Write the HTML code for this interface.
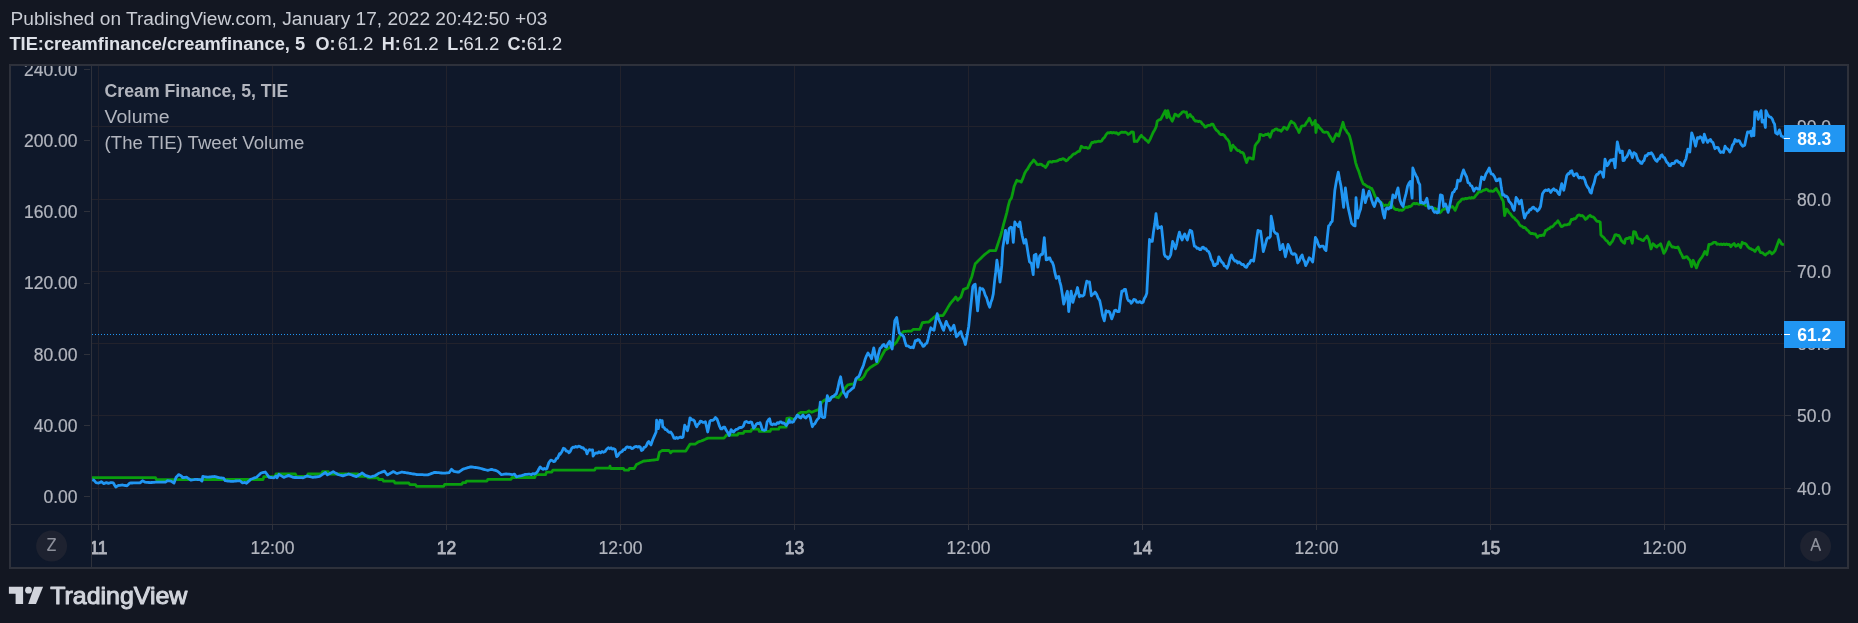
<!DOCTYPE html><html><head><meta charset="utf-8"><style>html,body{margin:0;padding:0;background:#131722;}svg{display:block;will-change:transform;}text{font-family:"Liberation Sans", sans-serif;}</style></head><body>
<svg width="1858" height="623" viewBox="0 0 1858 623">
<rect x="0" y="0" width="1858" height="623" fill="#131722"/>
<text x="10.5" y="24.7" font-size="18" fill="#c9ccd4" textLength="537" lengthAdjust="spacingAndGlyphs">Published on TradingView.com, January 17, 2022 20:42:50 +03</text>
<text x="9.4" y="49.5" font-size="18" font-weight="bold" fill="#dde0e7" textLength="295.8" lengthAdjust="spacingAndGlyphs">TIE:creamfinance/creamfinance, 5</text>
<text x="315.5" y="49.5" font-size="18" font-weight="bold" fill="#dde0e7">O:</text>
<text x="337.8" y="49.5" font-size="18" fill="#dde0e7" textLength="35.5" lengthAdjust="spacingAndGlyphs">61.2</text>
<text x="381.7" y="49.5" font-size="18" font-weight="bold" fill="#dde0e7">H:</text>
<text x="402.4" y="49.5" font-size="18" fill="#dde0e7" textLength="36.3" lengthAdjust="spacingAndGlyphs">61.2</text>
<text x="447.3" y="49.5" font-size="18" font-weight="bold" fill="#dde0e7">L:</text>
<text x="463.4" y="49.5" font-size="18" fill="#dde0e7" textLength="35.9" lengthAdjust="spacingAndGlyphs">61.2</text>
<text x="507.4" y="49.5" font-size="18" font-weight="bold" fill="#dde0e7">C:</text>
<text x="526.7" y="49.5" font-size="18" fill="#dde0e7" textLength="35.6" lengthAdjust="spacingAndGlyphs">61.2</text>
<rect x="9" y="64" width="1840" height="505" fill="#2e313b"/>
<rect x="11" y="66" width="1836" height="501" fill="#0f182a"/>
<rect x="98" y="66" width="1" height="458" fill="#22222c"/>
<rect x="272" y="66" width="1" height="458" fill="#22222c"/>
<rect x="446" y="66" width="1" height="458" fill="#22222c"/>
<rect x="620" y="66" width="1" height="458" fill="#22222c"/>
<rect x="794" y="66" width="1" height="458" fill="#22222c"/>
<rect x="968" y="66" width="1" height="458" fill="#22222c"/>
<rect x="1142" y="66" width="1" height="458" fill="#22222c"/>
<rect x="1316" y="66" width="1" height="458" fill="#22222c"/>
<rect x="1490" y="66" width="1" height="458" fill="#22222c"/>
<rect x="1664" y="66" width="1" height="458" fill="#22222c"/>
<rect x="92" y="126" width="1692" height="1" fill="#22222c"/>
<rect x="92" y="199" width="1692" height="1" fill="#22222c"/>
<rect x="92" y="271" width="1692" height="1" fill="#22222c"/>
<rect x="92" y="343" width="1692" height="1" fill="#22222c"/>
<rect x="92" y="415" width="1692" height="1" fill="#22222c"/>
<rect x="92" y="488" width="1692" height="1" fill="#22222c"/>
<rect x="91" y="66" width="1" height="501" fill="#2e313b"/>
<rect x="1784" y="66" width="1" height="501" fill="#2e313b"/>
<rect x="11" y="524" width="1836" height="1" fill="#2e313b"/>
<defs><clipPath id="lc"><rect x="11" y="66" width="80" height="458"/></clipPath><clipPath id="tc"><rect x="92" y="525" width="1692" height="42"/></clipPath></defs>
<g clip-path="url(#tc)">
<rect x="98" y="525" width="1" height="5" fill="#2e313b"/>
<text x="98.5" y="554" font-size="17.5" text-anchor="middle" fill="#b2b5be" stroke="#b2b5be" stroke-width="0.75">11</text>
<rect x="272" y="525" width="1" height="5" fill="#2e313b"/>
<text x="272.5" y="554" font-size="17.5" text-anchor="middle" fill="#b2b5be" stroke="#b2b5be" stroke-width="0.2">12:00</text>
<rect x="446" y="525" width="1" height="5" fill="#2e313b"/>
<text x="446.5" y="554" font-size="17.5" text-anchor="middle" fill="#b2b5be" stroke="#b2b5be" stroke-width="0.75">12</text>
<rect x="620" y="525" width="1" height="5" fill="#2e313b"/>
<text x="620.5" y="554" font-size="17.5" text-anchor="middle" fill="#b2b5be" stroke="#b2b5be" stroke-width="0.2">12:00</text>
<rect x="794" y="525" width="1" height="5" fill="#2e313b"/>
<text x="794.5" y="554" font-size="17.5" text-anchor="middle" fill="#b2b5be" stroke="#b2b5be" stroke-width="0.75">13</text>
<rect x="968" y="525" width="1" height="5" fill="#2e313b"/>
<text x="968.5" y="554" font-size="17.5" text-anchor="middle" fill="#b2b5be" stroke="#b2b5be" stroke-width="0.2">12:00</text>
<rect x="1142" y="525" width="1" height="5" fill="#2e313b"/>
<text x="1142.5" y="554" font-size="17.5" text-anchor="middle" fill="#b2b5be" stroke="#b2b5be" stroke-width="0.75">14</text>
<rect x="1316" y="525" width="1" height="5" fill="#2e313b"/>
<text x="1316.5" y="554" font-size="17.5" text-anchor="middle" fill="#b2b5be" stroke="#b2b5be" stroke-width="0.2">12:00</text>
<rect x="1490" y="525" width="1" height="5" fill="#2e313b"/>
<text x="1490.5" y="554" font-size="17.5" text-anchor="middle" fill="#b2b5be" stroke="#b2b5be" stroke-width="0.75">15</text>
<rect x="1664" y="525" width="1" height="5" fill="#2e313b"/>
<text x="1664.5" y="554" font-size="17.5" text-anchor="middle" fill="#b2b5be" stroke="#b2b5be" stroke-width="0.2">12:00</text>
</g>
<g clip-path="url(#lc)">
<rect x="84" y="69" width="6" height="1" fill="#2e313b"/>
<text x="77.5" y="75.6" font-size="17.5" text-anchor="end" fill="#b2b5be" stroke="#b2b5be" stroke-width="0.2">240.00</text>
<rect x="84" y="140" width="6" height="1" fill="#2e313b"/>
<text x="77.5" y="146.9" font-size="17.5" text-anchor="end" fill="#b2b5be" stroke="#b2b5be" stroke-width="0.2">200.00</text>
<rect x="84" y="211" width="6" height="1" fill="#2e313b"/>
<text x="77.5" y="218.1" font-size="17.5" text-anchor="end" fill="#b2b5be" stroke="#b2b5be" stroke-width="0.2">160.00</text>
<rect x="84" y="283" width="6" height="1" fill="#2e313b"/>
<text x="77.5" y="289.4" font-size="17.5" text-anchor="end" fill="#b2b5be" stroke="#b2b5be" stroke-width="0.2">120.00</text>
<rect x="84" y="354" width="6" height="1" fill="#2e313b"/>
<text x="77.5" y="360.6" font-size="17.5" text-anchor="end" fill="#b2b5be" stroke="#b2b5be" stroke-width="0.2">80.00</text>
<rect x="84" y="425" width="6" height="1" fill="#2e313b"/>
<text x="77.5" y="431.9" font-size="17.5" text-anchor="end" fill="#b2b5be" stroke="#b2b5be" stroke-width="0.2">40.00</text>
<rect x="84" y="496" width="6" height="1" fill="#2e313b"/>
<text x="77.5" y="503.1" font-size="17.5" text-anchor="end" fill="#b2b5be" stroke="#b2b5be" stroke-width="0.2">0.00</text>
</g>
<rect x="1785" y="126" width="6" height="1" fill="#2e313b"/>
<text x="1797" y="133.3" font-size="17.5" fill="#b2b5be" stroke="#b2b5be" stroke-width="0.2">90.0</text>
<rect x="1785" y="199" width="6" height="1" fill="#2e313b"/>
<text x="1797" y="206.3" font-size="17.5" fill="#b2b5be" stroke="#b2b5be" stroke-width="0.2">80.0</text>
<rect x="1785" y="271" width="6" height="1" fill="#2e313b"/>
<text x="1797" y="278.3" font-size="17.5" fill="#b2b5be" stroke="#b2b5be" stroke-width="0.2">70.0</text>
<rect x="1785" y="343" width="6" height="1" fill="#2e313b"/>
<text x="1797" y="350.3" font-size="17.5" fill="#b2b5be" stroke="#b2b5be" stroke-width="0.2">60.0</text>
<rect x="1785" y="415" width="6" height="1" fill="#2e313b"/>
<text x="1797" y="422.3" font-size="17.5" fill="#b2b5be" stroke="#b2b5be" stroke-width="0.2">50.0</text>
<rect x="1785" y="488" width="6" height="1" fill="#2e313b"/>
<text x="1797" y="495.3" font-size="17.5" fill="#b2b5be" stroke="#b2b5be" stroke-width="0.2">40.0</text>
<rect x="11" y="64" width="1836" height="2" fill="#2e313b"/>
<rect x="0" y="0" width="1858" height="64" fill="#131722" opacity="0"/>
<text x="104.6" y="97.1" font-size="18" font-weight="bold" fill="#b2b5be" textLength="183.7" lengthAdjust="spacingAndGlyphs">Cream Finance, 5, TIE</text>
<text x="104.6" y="122.8" font-size="18" fill="#b2b5be" textLength="65" lengthAdjust="spacingAndGlyphs">Volume</text>
<text x="104.6" y="148.9" font-size="18" fill="#b2b5be" textLength="199.8" lengthAdjust="spacingAndGlyphs">(The TIE) Tweet Volume</text>
<line x1="92" y1="334.5" x2="1784" y2="334.5" stroke="#2196f3" stroke-width="1" stroke-dasharray="1 2"/>
<defs><clipPath id="pc"><rect x="92" y="66" width="1692" height="458"/></clipPath></defs>
<g clip-path="url(#pc)" fill="none" stroke-linejoin="round" stroke-linecap="butt">
<polyline points="92.0,477.7 93.4,477.7 94.8,477.7 96.2,477.7 97.6,477.7 99.1,477.7 100.5,477.7 101.9,477.7 103.3,477.7 104.7,477.7 106.1,477.7 107.5,477.7 108.9,477.7 110.3,477.7 111.8,477.7 113.2,477.7 114.6,477.7 116.0,477.7 117.4,477.7 118.8,477.7 120.2,477.7 121.6,477.7 123.0,477.7 124.5,477.7 125.9,477.7 127.3,477.7 128.7,477.7 130.1,477.7 131.5,477.7 132.9,477.7 134.3,477.7 135.7,477.7 137.2,477.7 138.6,477.7 140.0,477.7 141.4,477.7 142.8,477.7 144.2,477.7 145.6,477.7 147.0,477.7 148.4,477.7 149.9,477.7 151.3,477.7 152.7,477.7 154.1,477.7 155.5,477.7 156.5,479.6 157.9,479.6 159.3,479.6 160.7,479.6 162.1,479.6 163.5,479.6 164.9,479.6 166.3,479.6 167.7,479.6 169.1,479.6 170.5,479.6 171.9,479.6 173.3,479.6 174.7,479.6 176.1,479.6 177.5,479.6 178.9,479.6 180.3,479.6 181.7,479.6 183.1,479.6 184.5,479.6 185.9,479.6 187.3,479.6 188.7,479.6 190.1,479.6 191.5,479.6 192.9,479.6 194.3,479.6 195.7,479.6 197.1,479.6 198.5,479.6 199.9,479.6 201.3,479.6 202.7,479.6 204.1,479.6 205.5,479.6 206.9,479.6 208.3,479.6 209.8,479.6 211.2,479.5 212.6,479.5 214.0,479.5 215.4,479.5 216.8,479.5 218.2,479.5 219.6,479.5 221.0,479.5 222.4,479.5 223.8,479.5 225.2,479.5 226.6,479.5 228.0,479.5 229.4,479.5 230.8,479.5 232.2,479.5 233.6,479.5 235.0,479.5 236.4,479.5 237.8,479.5 239.2,479.5 240.6,479.5 242.0,479.5 243.4,479.5 244.8,479.5 246.2,479.5 247.6,479.5 249.0,479.5 250.4,479.5 251.8,479.5 253.2,479.5 254.6,479.5 256.0,479.5 257.4,479.5 258.8,479.5 260.2,479.5 261.6,479.5 263.0,479.5 263.9,476.6 265.3,476.6 266.7,476.6 268.1,476.6 269.4,476.6 270.8,476.6 272.2,476.6 273.6,476.6 275.0,476.6 276.0,474.0 277.4,474.0 278.8,474.0 280.2,474.0 281.5,474.0 282.9,474.0 284.3,474.0 285.7,474.0 287.1,474.0 288.5,474.0 289.9,474.0 291.2,474.0 292.6,474.0 294.0,474.0 295.4,474.0 296.5,476.4 297.8,476.4 299.1,476.4 300.4,476.4 301.8,476.4 303.1,476.4 304.4,476.4 305.7,476.4 307.0,476.4 308.0,474.0 309.4,474.0 310.7,474.0 312.1,474.0 313.4,474.0 314.8,474.0 316.1,474.0 317.4,474.0 318.8,474.0 320.1,474.0 321.5,474.0 322.5,471.7 323.9,471.7 325.4,471.7 326.9,471.7 328.3,471.7 329.3,474.0 330.7,474.0 332.2,474.0 333.6,474.0 335.0,474.0 336.5,474.0 337.9,474.0 339.3,474.0 340.8,474.0 342.2,474.0 343.6,474.0 345.1,474.0 346.5,474.0 348.0,474.0 349.4,474.0 350.8,474.0 352.3,474.0 353.7,474.0 355.1,474.0 356.6,474.0 358.0,474.0 359.0,476.4 360.3,476.4 361.7,476.4 363.0,476.4 364.3,476.4 365.7,476.4 367.0,476.4 368.0,477.8 369.4,477.8 370.8,477.8 372.2,477.8 373.6,477.8 375.0,477.8 376.4,477.8 377.8,477.8 378.8,479.5 380.1,479.5 381.3,479.5 382.6,479.5 383.6,481.2 385.1,481.2 386.6,481.2 388.1,481.2 389.5,481.2 391.0,481.2 392.5,481.2 394.0,481.2 395.0,483.0 396.4,483.0 397.8,483.0 399.1,483.0 400.5,483.0 401.9,483.0 403.3,483.0 404.7,483.0 406.0,483.0 407.4,483.0 408.8,483.0 409.8,484.6 411.2,484.6 412.6,484.6 414.1,484.6 415.5,484.6 416.5,486.3 417.9,486.3 419.4,486.3 420.8,486.3 422.2,486.3 423.7,486.3 425.1,486.3 426.5,486.3 428.0,486.3 429.4,486.3 430.8,486.3 432.2,486.3 433.7,486.3 435.1,486.3 436.5,486.3 438.0,486.3 439.4,486.3 440.8,486.3 442.3,486.3 443.7,486.3 444.7,484.3 446.1,484.3 447.5,484.3 448.9,484.3 450.4,484.3 451.8,484.3 453.2,484.3 454.6,484.3 456.0,484.3 457.4,484.3 458.9,484.3 460.3,484.3 461.7,484.3 462.7,482.7 464.1,482.7 465.5,482.7 466.5,481.1 467.9,481.1 469.2,481.1 470.6,481.1 471.9,481.1 473.3,481.1 474.7,481.1 476.0,481.1 477.4,481.1 478.7,481.1 480.1,481.1 481.5,481.1 482.8,481.1 484.2,481.1 485.5,481.1 486.9,481.1 487.9,479.3 489.3,479.3 490.6,479.3 492.0,479.3 493.3,479.3 494.7,479.3 496.1,479.3 497.4,479.3 498.8,479.3 500.1,479.3 501.5,479.3 502.8,479.3 504.2,479.3 505.6,479.3 506.9,479.3 508.3,479.3 509.6,479.3 511.0,479.3 512.0,477.5 513.4,477.5 514.9,477.5 516.3,477.5 517.7,477.5 519.1,477.5 520.5,477.5 522.0,477.5 523.4,477.5 524.8,477.5 526.2,477.5 527.7,477.5 529.1,477.5 530.5,477.5 531.9,477.5 533.4,477.5 534.8,477.5 535.8,474.6 537.2,474.6 538.6,474.6 540.0,474.6 541.3,474.6 542.7,474.6 544.1,474.6 545.5,474.6 546.5,472.2 547.8,472.2 549.1,472.2 550.5,472.2 551.8,472.2 552.8,470.2 554.2,470.2 555.6,470.2 557.0,470.2 558.4,470.2 559.8,470.2 561.2,470.2 562.6,470.2 563.9,470.2 565.3,470.2 566.7,470.2 568.1,470.2 569.5,470.2 570.9,470.2 572.3,470.2 573.7,470.2 575.1,470.2 576.5,470.2 577.9,470.2 579.3,470.2 580.7,470.2 582.1,470.2 583.5,470.2 584.8,470.2 586.2,470.2 587.6,470.2 589.0,470.2 590.4,470.2 591.8,470.2 593.2,470.2 594.6,470.2 595.6,468.2 597.0,468.2 598.4,468.2 599.7,468.2 601.1,468.2 602.5,468.2 603.9,468.2 605.3,468.2 606.6,468.2 608.0,468.2 609.4,468.2 610.0,466.2 610.6,468.5 612.0,468.5 613.5,468.5 614.9,468.5 616.3,468.5 617.8,468.5 619.2,468.5 620.6,468.5 622.1,468.5 623.5,468.5 624.5,470.2 625.8,470.2 627.2,470.2 628.5,470.2 629.5,468.5 631.1,468.5 632.6,468.5 634.2,468.5 635.3,466.6 636.4,464.6 637.7,463.9 639.1,463.2 640.4,462.6 641.8,461.9 643.1,461.2 644.6,461.0 646.1,460.8 647.6,460.6 649.1,460.5 650.6,460.3 652.1,460.1 653.5,460.0 655.0,459.8 656.4,459.6 657.8,459.5 659.4,452.2 660.8,451.4 662.2,450.5 663.6,450.5 664.9,450.5 666.3,450.5 667.6,450.5 669.0,450.5 670.7,452.8 672.4,451.1 673.7,451.1 675.1,451.1 676.4,451.1 677.8,451.1 679.1,451.1 680.4,451.1 681.8,451.1 683.1,451.1 684.5,451.1 685.8,451.1 687.2,448.8 688.6,446.5 690.0,444.2 691.3,444.2 692.5,444.2 693.8,444.2 695.1,444.2 696.7,443.0 698.3,441.9 699.8,441.4 701.2,441.0 702.7,440.4 704.1,439.7 705.4,439.2 706.7,438.6 708.0,438.1 709.5,438.1 710.9,438.1 712.4,438.1 713.8,438.1 715.3,438.1 716.7,438.1 718.2,438.1 719.6,438.1 721.1,438.1 722.5,438.1 724.0,438.1 725.3,436.6 726.6,435.0 728.0,435.0 729.3,435.0 730.7,435.0 732.0,435.0 733.4,435.0 734.8,435.0 736.1,435.0 737.5,435.0 738.5,433.3 740.1,433.3 741.7,433.3 743.3,433.3 744.3,431.3 745.6,431.3 746.9,431.3 748.3,431.3 749.6,431.3 750.9,431.3 751.9,429.1 753.2,429.1 754.5,429.1 755.8,429.1 757.1,429.1 758.4,429.1 759.4,431.4 760.8,431.4 762.1,431.4 763.5,431.4 764.8,431.4 766.1,431.4 767.5,431.4 768.9,431.4 770.2,431.4 771.0,429.1 772.5,429.1 774.0,429.1 775.6,429.1 777.1,429.1 778.6,429.1 779.4,427.2 780.8,427.2 782.1,427.2 783.5,427.2 784.8,427.2 786.2,427.2 786.8,418.5 788.4,418.2 790.0,418.0 791.4,418.5 792.9,419.0 794.3,419.5 795.8,417.6 797.2,415.6 798.7,413.7 800.8,412.3 802.2,412.3 803.7,412.3 805.1,412.3 806.6,412.3 807.7,411.6 808.8,410.8 810.2,411.6 811.7,412.3 812.9,411.8 814.1,411.3 815.3,410.8 816.5,410.3 817.7,409.9 818.9,409.4 820.3,405.8 821.8,402.1 823.2,401.1 824.7,400.0 826.2,399.4 827.6,398.9 829.0,398.4 830.5,397.8 831.9,397.3 833.4,396.9 834.8,396.4 836.0,396.9 837.2,397.3 838.4,397.8 839.8,395.6 841.3,393.5 842.5,391.8 843.7,390.1 844.9,388.4 846.3,386.6 847.8,384.8 849.0,384.6 850.2,384.3 851.4,384.1 852.5,384.1 853.6,384.1 855.0,381.6 856.5,379.0 857.9,379.2 859.4,379.5 860.8,379.7 862.2,378.2 863.7,376.8 865.2,374.0 866.6,371.1 867.8,369.9 869.0,368.7 870.2,367.5 871.4,366.8 872.6,366.0 873.8,365.3 875.0,364.6 876.2,363.8 877.4,363.1 878.8,361.0 880.3,358.8 881.4,356.6 882.5,354.5 883.8,352.2 885.1,350.0 886.6,349.2 888.2,348.3 889.7,347.5 891.3,346.6 892.8,345.8 894.1,344.5 895.4,343.2 896.7,341.9 898.2,339.1 899.7,336.4 901.2,333.6 902.5,332.5 903.8,331.4 905.1,331.3 906.4,331.3 907.6,331.2 908.9,331.1 910.2,331.1 911.5,331.0 913.4,329.3 914.7,329.3 916.0,329.3 917.2,329.3 918.5,329.3 919.8,329.3 921.1,326.0 922.4,322.6 923.7,322.5 925.0,322.4 926.2,322.2 927.5,322.1 928.8,322.0 930.1,320.8 931.4,319.6 932.7,318.5 934.0,317.3 935.2,316.5 936.5,315.6 937.8,315.6 939.1,315.6 940.4,315.6 941.7,315.6 943.0,315.6 944.2,313.7 945.7,311.3 947.1,308.9 948.5,306.4 950.0,304.0 951.5,302.2 952.9,300.5 954.3,298.8 955.8,297.0 957.7,300.2 959.3,298.6 960.9,297.0 962.2,293.1 963.5,289.3 964.8,288.9 966.1,288.4 967.4,288.0 968.9,284.1 970.4,280.3 971.9,276.4 973.5,270.1 975.2,263.8 976.6,262.4 978.0,261.0 979.5,259.6 980.9,258.2 982.3,256.8 983.7,255.4 985.2,254.2 986.7,253.0 988.2,251.8 989.7,250.6 991.2,250.6 992.7,250.6 994.2,250.6 995.7,250.6 997.3,245.8 998.9,240.9 1000.5,236.1 1002.1,230.3 1003.7,223.8 1005.3,218.1 1006.8,212.6 1008.2,206.1 1009.7,200.6 1011.5,198.0 1012.8,192.7 1014.1,186.5 1015.5,183.2 1016.8,180.3 1018.3,181.2 1019.7,181.1 1021.2,182.1 1023.0,178.1 1024.7,173.3 1026.2,170.6 1027.6,169.0 1029.1,166.2 1030.6,163.8 1032.1,162.3 1033.6,160.0 1035.3,161.8 1037.1,164.4 1038.6,164.7 1040.0,164.1 1041.5,164.4 1042.9,165.7 1044.2,166.1 1045.6,167.6 1047.1,165.3 1048.6,162.1 1050.1,161.6 1051.7,162.2 1053.2,161.3 1054.8,161.4 1056.5,161.2 1058.3,160.4 1059.8,159.4 1061.2,159.5 1062.7,158.6 1064.5,159.4 1066.2,160.9 1067.8,159.8 1069.3,157.7 1070.9,156.9 1072.4,155.1 1073.6,154.0 1074.8,153.9 1076.0,153.0 1077.8,151.7 1079.5,151.2 1081.3,146.3 1083.0,147.4 1084.8,147.7 1086.3,147.4 1087.7,148.3 1089.2,148.0 1090.6,144.8 1091.9,142.4 1093.2,142.5 1094.6,141.7 1095.9,142.1 1097.2,141.5 1098.7,141.1 1100.1,141.5 1101.6,141.0 1103.1,138.6 1104.7,137.2 1106.2,134.4 1107.8,132.7 1109.3,133.0 1110.7,132.3 1112.2,133.1 1113.7,132.4 1115.1,133.1 1116.6,132.7 1118.4,134.4 1120.2,132.8 1121.9,132.1 1123.7,132.4 1125.4,132.1 1126.8,132.9 1128.1,134.4 1129.8,133.5 1131.6,131.8 1133.4,132.1 1134.3,141.5 1135.6,141.1 1136.9,141.5 1138.4,139.7 1139.8,137.1 1141.3,135.3 1142.7,137.1 1144.1,137.9 1145.6,139.8 1147.0,140.7 1148.4,142.4 1150.2,139.1 1151.9,135.3 1153.4,131.9 1154.8,129.7 1156.3,126.5 1157.2,121.2 1159.0,119.9 1160.7,119.4 1162.5,115.9 1163.8,113.5 1165.2,110.6 1166.9,117.7 1167.8,110.6 1169.6,116.8 1170.9,118.7 1172.2,121.2 1173.6,118.1 1174.9,114.1 1176.1,114.5 1177.4,115.9 1178.6,116.3 1179.8,114.4 1181.0,113.7 1182.2,112.0 1183.6,111.6 1185.0,112.3 1186.4,112.0 1187.6,117.5 1188.8,115.7 1190.0,114.4 1191.4,116.5 1192.8,117.3 1194.1,119.8 1195.5,121.1 1196.8,120.9 1198.2,121.6 1199.6,121.2 1200.9,121.7 1202.3,123.9 1203.7,125.0 1205.1,127.1 1206.3,126.8 1207.5,125.6 1208.7,125.3 1210.1,125.3 1211.5,124.2 1212.9,124.1 1214.7,127.7 1216.3,130.1 1218.0,131.4 1219.6,133.7 1221.2,134.7 1222.8,134.5 1224.4,135.5 1226.0,138.1 1227.6,139.5 1229.2,142.1 1231.0,150.6 1232.8,145.1 1234.0,146.8 1235.2,147.7 1236.4,149.4 1237.8,150.6 1239.3,150.7 1240.7,152.3 1242.2,152.4 1243.6,153.6 1245.1,158.3 1246.6,162.6 1248.5,157.8 1250.1,157.8 1251.7,158.8 1253.3,159.0 1255.1,145.7 1256.5,143.4 1257.9,142.0 1259.3,139.7 1259.9,134.3 1261.4,134.6 1262.9,135.5 1264.2,135.3 1265.6,134.3 1267.0,134.6 1268.3,133.7 1270.1,137.3 1271.3,133.6 1272.5,130.7 1273.9,130.5 1275.3,129.1 1276.7,128.9 1278.1,130.1 1279.6,130.1 1281.0,131.3 1282.5,129.5 1284.0,127.1 1285.5,128.0 1287.0,129.5 1288.4,127.0 1289.8,123.5 1291.2,121.1 1292.4,122.5 1293.6,122.8 1294.8,124.1 1296.2,127.3 1297.6,129.3 1299.0,132.5 1300.2,129.8 1301.4,126.5 1302.6,125.8 1303.8,125.9 1305.0,125.3 1306.4,122.6 1307.9,120.8 1309.3,118.1 1310.8,121.2 1312.3,124.7 1313.8,123.0 1315.3,120.5 1315.9,132.5 1317.1,124.7 1318.3,125.7 1319.5,127.8 1320.7,128.9 1321.9,130.0 1323.1,131.9 1324.7,132.4 1326.3,132.0 1327.9,132.5 1329.5,135.8 1331.1,138.1 1332.7,141.5 1333.9,139.2 1335.2,135.9 1336.4,133.7 1337.6,135.3 1338.8,136.1 1340.2,131.2 1341.6,127.1 1343.0,122.3 1344.8,128.9 1346.0,130.2 1347.2,132.5 1348.4,133.7 1349.6,136.1 1350.8,140.6 1352.0,145.7 1353.2,151.7 1354.4,156.5 1355.6,162.6 1357.1,167.2 1358.6,170.9 1360.1,175.7 1361.7,180.2 1363.3,184.0 1364.9,184.6 1366.6,186.0 1367.9,186.9 1369.2,186.9 1370.4,188.3 1371.7,188.5 1373.2,191.3 1374.7,195.4 1376.2,198.2 1377.7,199.1 1379.2,201.0 1380.7,202.0 1382.0,203.3 1383.2,205.2 1384.5,205.6 1385.8,204.9 1387.1,205.5 1388.4,205.2 1390.3,202.0 1391.6,204.1 1392.9,207.1 1394.5,208.7 1396.1,209.7 1397.5,209.4 1399.0,210.3 1400.5,210.0 1401.9,210.4 1403.4,209.6 1404.9,207.8 1406.4,207.1 1407.7,207.3 1408.9,206.4 1410.2,206.5 1411.5,205.8 1412.8,204.0 1414.1,203.3 1415.4,203.9 1416.6,203.4 1417.9,203.9 1419.2,204.3 1420.5,203.5 1421.7,204.2 1423.0,203.9 1424.3,204.2 1425.6,205.7 1426.9,205.9 1428.2,206.1 1429.5,207.1 1430.7,207.0 1432.0,207.8 1433.3,208.5 1434.6,208.1 1435.9,209.1 1437.2,209.1 1438.5,210.7 1439.7,212.9 1441.0,211.9 1442.3,210.0 1443.6,209.1 1444.9,209.1 1446.2,207.9 1447.4,208.3 1448.7,207.2 1450.0,207.1 1451.3,207.2 1452.6,206.5 1453.8,208.0 1455.1,210.4 1456.4,207.4 1457.7,203.9 1459.0,202.1 1460.3,201.3 1461.6,199.4 1462.9,198.9 1464.2,199.1 1465.4,198.3 1466.7,198.8 1468.0,198.2 1469.3,197.7 1470.6,198.3 1471.8,197.4 1473.1,198.0 1474.4,197.5 1475.7,195.6 1477.0,194.3 1478.3,192.4 1479.6,191.7 1480.8,191.9 1482.1,191.1 1483.4,190.1 1484.7,190.2 1486.0,189.2 1487.3,189.5 1488.5,190.9 1489.8,191.1 1491.1,190.8 1492.4,191.4 1493.7,191.1 1495.0,189.5 1496.2,188.5 1497.5,190.9 1498.8,192.6 1500.1,195.0 1501.7,198.5 1503.3,201.4 1504.6,215.5 1506.5,209.1 1507.8,210.3 1509.0,212.7 1510.3,213.6 1511.6,215.5 1512.9,217.2 1514.2,217.7 1515.5,219.6 1516.8,220.6 1518.1,222.0 1519.3,224.3 1520.6,225.8 1521.9,226.1 1523.2,227.5 1524.5,227.3 1525.8,228.4 1527.1,230.1 1528.3,230.7 1529.6,232.6 1530.9,233.5 1532.4,233.3 1533.9,234.0 1535.4,233.8 1537.3,237.4 1538.6,236.0 1539.9,235.4 1541.2,235.7 1542.5,235.0 1543.8,235.4 1545.7,230.3 1547.0,230.0 1548.3,228.6 1549.6,228.5 1550.8,226.9 1552.1,226.9 1553.4,225.8 1554.9,223.7 1556.4,222.8 1557.9,220.7 1559.5,223.2 1561.1,226.5 1562.6,226.3 1564.1,225.0 1565.6,224.8 1566.9,224.9 1568.1,224.2 1569.4,224.3 1571.4,219.4 1572.7,219.6 1573.9,218.6 1575.2,218.8 1576.5,217.3 1577.8,215.3 1579.3,214.9 1580.8,215.8 1582.3,215.5 1583.9,217.0 1585.5,219.4 1587.0,218.4 1588.5,216.3 1590.0,215.3 1591.5,216.6 1593.0,216.8 1594.5,218.1 1595.8,220.0 1597.0,221.3 1598.6,221.4 1600.2,222.0 1600.9,234.8 1602.2,236.3 1603.4,237.2 1604.7,238.7 1606.0,240.5 1607.3,241.1 1608.6,243.3 1609.9,244.4 1611.2,242.5 1612.4,241.2 1613.7,238.4 1615.0,234.8 1616.3,234.6 1617.6,235.5 1618.9,235.4 1620.2,237.7 1621.4,240.6 1623.0,242.2 1624.6,243.2 1625.3,239.3 1626.6,238.4 1627.8,238.6 1629.1,237.6 1630.4,237.4 1632.3,243.2 1633.6,231.6 1635.5,232.2 1637.5,238.0 1639.0,238.9 1640.4,239.1 1641.8,240.2 1643.3,240.6 1644.6,238.7 1645.8,237.9 1647.1,236.1 1649.0,240.0 1651.0,249.0 1652.9,243.8 1654.2,244.6 1655.4,246.3 1656.7,247.0 1658.0,245.5 1659.3,245.1 1660.6,243.8 1662.2,248.4 1663.8,253.4 1665.1,251.5 1666.4,248.9 1667.7,245.1 1668.9,241.9 1670.5,244.9 1672.1,247.0 1673.7,247.0 1675.3,247.6 1676.6,247.6 1677.9,247.0 1679.2,249.5 1680.5,252.7 1681.8,254.9 1683.1,257.9 1684.4,257.8 1685.6,256.8 1686.9,256.6 1688.5,258.9 1690.0,260.3 1691.6,266.7 1693.2,260.3 1694.8,263.9 1696.4,267.9 1697.6,264.9 1698.8,261.5 1700.4,259.1 1702.0,257.1 1703.4,254.6 1704.8,251.5 1705.8,252.7 1706.9,254.7 1708.9,244.3 1710.9,244.3 1712.3,243.6 1713.7,242.3 1715.7,242.3 1716.9,244.3 1718.3,244.0 1719.7,244.5 1721.0,244.0 1722.4,244.7 1723.8,243.9 1725.2,244.7 1726.5,244.0 1727.9,244.6 1729.3,244.3 1730.9,246.7 1732.5,244.7 1734.1,243.5 1735.7,246.3 1737.0,245.7 1738.2,244.3 1739.4,245.6 1740.6,247.5 1742.2,242.3 1743.5,243.3 1744.9,243.3 1746.2,244.3 1747.8,246.7 1749.4,248.3 1750.7,248.6 1752.1,249.7 1753.4,249.9 1755.0,251.5 1756.6,248.9 1758.2,247.1 1759.4,250.3 1760.6,252.7 1761.8,252.6 1763.0,253.1 1764.2,254.4 1765.4,255.1 1766.8,253.5 1768.1,253.1 1769.5,251.5 1770.7,252.3 1771.9,253.9 1773.5,252.7 1775.1,250.7 1777.1,245.1 1779.1,239.8 1780.3,241.5 1781.5,243.9 1782.7,244.4 1783.9,244.3" stroke="#0a9e0e" stroke-width="2.8"/>
<polyline points="92.2,479.8 93.9,480.2 96.0,482.6 97.3,482.9 98.6,483.1 99.9,482.4 101.2,481.7 102.5,482.7 103.8,483.7 105.1,483.1 106.4,482.6 108.5,483.4 109.6,483.0 110.7,482.6 112.0,482.7 113.3,482.8 114.5,485.0 115.8,487.1 117.1,486.2 118.4,485.4 119.8,485.3 121.3,485.1 122.7,485.0 124.1,485.3 125.6,485.5 127.0,485.8 128.3,484.5 129.6,483.1 130.9,483.0 132.2,483.0 133.5,482.9 134.8,482.8 136.1,482.8 137.4,482.8 138.7,482.8 140.0,482.8 141.2,481.8 142.5,480.7 143.8,481.4 145.1,482.2 146.4,482.3 147.7,482.4 149.0,482.5 150.3,482.6 151.6,482.5 152.9,482.4 154.2,482.3 155.5,482.2 156.8,482.2 158.1,482.2 159.3,482.2 160.6,482.2 161.9,482.1 163.2,482.1 164.5,482.1 165.8,482.0 167.5,480.7 169.2,480.9 171.0,481.1 172.5,482.1 174.0,483.1 176.1,477.2 177.4,475.9 178.7,474.6 180.0,475.2 181.3,475.9 182.6,477.7 183.9,477.5 185.2,477.4 186.5,477.2 187.9,478.2 189.4,479.2 190.8,480.2 192.2,479.9 193.7,479.7 195.1,479.4 196.4,479.4 197.6,479.5 198.9,479.6 200.2,479.6 202.0,481.1 202.8,476.4 204.2,476.7 205.7,476.9 207.1,477.2 208.4,477.1 209.7,477.0 211.0,476.9 212.3,476.7 213.6,476.6 214.9,476.5 216.3,476.9 217.8,477.3 219.2,477.7 220.6,477.8 222.1,478.0 223.5,478.1 225.2,480.7 226.6,480.8 228.0,481.0 229.3,481.1 230.7,481.3 232.1,481.4 233.4,481.3 234.7,481.2 236.0,481.0 237.3,480.9 238.6,480.8 239.9,480.7 241.2,481.8 242.5,482.8 243.8,482.6 245.0,482.4 246.5,483.2 247.9,481.9 249.4,480.6 250.8,479.3 252.2,478.8 253.7,478.2 255.2,477.7 256.6,477.2 258.1,475.8 259.5,474.4 261.0,473.0 262.4,472.7 263.9,472.3 265.3,472.0 266.6,473.8 267.9,475.6 269.2,477.4 270.8,477.5 272.4,477.7 274.0,477.8 276.0,475.9 277.0,477.8 278.9,474.3 280.1,475.1 281.4,475.9 282.6,476.6 283.8,477.4 285.4,476.7 287.0,476.1 288.6,475.4 290.2,476.1 291.8,476.7 293.4,477.4 294.8,477.5 296.2,477.5 297.6,477.6 298.9,477.6 300.3,477.7 301.7,477.7 303.1,477.8 304.4,477.2 305.7,476.5 307.0,475.9 308.4,476.3 309.9,476.6 311.4,477.0 312.8,477.4 314.2,477.2 315.5,477.0 316.9,476.8 318.2,476.6 319.6,476.4 321.1,475.4 322.5,474.4 323.9,473.5 325.4,472.5 327.4,474.9 328.8,474.1 330.3,473.2 331.8,472.4 333.2,471.6 334.8,472.6 336.4,473.5 338.0,474.5 339.6,475.0 341.3,475.4 342.9,475.9 344.3,475.4 345.8,474.9 347.2,474.5 348.7,474.0 350.2,474.5 351.8,475.0 353.3,475.6 354.9,476.1 356.4,476.6 357.8,475.7 359.3,474.8 360.8,473.9 362.2,473.0 363.7,474.2 365.2,475.4 366.8,475.9 368.4,476.4 370.0,476.9 371.6,476.6 373.2,476.2 374.8,475.9 376.1,475.0 377.4,474.2 378.7,473.3 380.1,472.8 381.6,472.2 383.1,471.7 384.5,471.1 385.9,473.0 387.4,474.9 388.9,474.1 390.4,473.2 391.8,472.4 393.3,471.6 394.6,472.2 395.8,472.9 397.1,473.5 398.7,473.0 400.4,472.5 402.0,472.0 403.5,472.3 405.1,472.5 406.6,472.8 408.2,473.0 409.7,473.3 411.0,473.5 412.3,473.8 413.6,474.0 414.9,474.2 416.2,474.5 417.5,474.7 418.8,474.6 420.0,474.6 421.3,474.7 422.6,474.7 423.9,474.8 425.2,474.8 426.5,474.8 427.8,474.9 429.1,474.4 430.5,473.9 431.8,473.4 433.2,472.9 434.5,472.4 435.9,472.5 437.3,472.6 438.7,472.7 440.0,472.9 441.4,473.0 442.8,473.1 444.2,473.2 445.4,473.1 446.6,472.9 447.9,472.8 449.1,472.7 450.3,471.0 451.5,469.3 452.7,470.4 453.9,471.4 455.1,471.6 456.4,471.8 457.6,472.0 458.8,472.2 460.1,471.2 461.3,470.3 462.6,469.3 463.9,468.9 465.2,468.5 466.5,468.1 467.8,467.7 469.1,467.3 470.4,466.9 471.7,467.0 473.0,467.2 474.2,467.4 475.5,467.5 476.8,467.6 478.1,467.8 479.5,468.2 480.9,468.5 482.3,468.9 483.6,469.3 485.0,469.7 486.4,470.0 487.8,470.4 489.1,470.0 490.4,469.7 491.7,469.3 493.1,469.8 494.6,470.2 496.1,470.7 497.5,471.2 498.8,472.3 500.1,473.5 501.4,474.6 503.0,474.4 504.6,474.1 506.2,473.9 507.7,474.1 509.1,474.2 510.6,474.4 512.1,474.6 513.3,474.4 514.5,474.1 516.4,476.8 517.7,476.5 519.0,476.2 520.4,475.9 521.7,475.6 523.0,475.2 524.3,474.7 525.6,474.3 527.0,474.3 528.5,474.2 530.0,474.2 531.4,474.7 532.8,473.6 534.3,474.1 536.0,473.2 537.7,471.4 539.0,468.7 540.2,466.9 541.7,468.5 543.1,469.3 544.4,468.4 545.6,469.2 546.9,468.5 548.9,462.5 550.8,460.1 552.2,460.5 553.7,461.7 555.0,461.2 556.3,458.6 557.6,458.1 559.5,453.8 560.0,454.4 561.7,452.0 563.4,448.3 564.8,448.8 566.2,451.0 567.6,451.2 569.0,452.8 570.3,451.3 571.6,448.5 572.9,447.1 574.4,447.4 575.8,446.4 577.3,447.2 578.7,446.2 580.2,446.6 581.6,447.8 583.0,447.6 584.4,449.5 585.8,449.9 587.0,453.9 588.1,451.3 589.2,449.7 590.9,450.2 592.6,449.9 593.1,456.1 594.5,453.9 596.0,452.8 597.5,453.2 599.0,451.8 600.5,452.9 602.0,451.5 603.5,452.3 605.0,451.6 606.6,449.2 608.3,447.7 609.7,448.7 611.0,447.8 612.4,449.1 613.7,448.6 615.1,449.4 616.7,456.7 618.0,455.6 619.4,453.1 620.7,452.2 622.0,451.6 623.4,449.6 624.7,449.6 626.1,447.5 627.4,446.8 628.8,447.5 630.2,447.1 631.6,448.5 633.0,448.3 634.7,446.8 636.4,446.3 637.7,447.2 639.0,446.5 640.3,447.1 641.5,450.5 642.8,449.8 644.0,447.4 645.2,447.2 646.5,445.4 647.6,442.8 648.8,441.5 649.9,443.6 651.0,444.9 652.7,439.8 654.4,435.9 656.1,432.0 656.6,420.2 658.3,428.6 660.0,420.2 661.1,420.9 662.2,420.7 662.8,427.0 664.1,427.5 665.3,429.7 666.6,429.7 667.9,431.4 669.3,432.4 670.7,432.0 672.4,434.5 674.0,438.1 675.3,438.5 676.5,437.4 677.8,438.4 679.1,437.6 680.4,436.9 681.7,437.7 683.0,437.0 684.7,425.2 686.1,427.4 687.5,430.8 688.8,424.7 690.0,417.8 691.9,419.8 693.2,419.9 694.5,421.1 695.6,424.6 696.7,426.8 697.9,424.4 699.1,423.6 700.3,421.1 701.5,421.3 702.8,422.3 704.1,422.4 705.4,421.7 706.5,426.4 707.7,432.0 708.8,427.0 709.9,421.1 711.2,420.3 712.5,420.4 714.0,419.6 715.4,417.5 717.0,419.1 718.2,422.3 719.5,426.2 720.8,428.8 722.1,428.9 723.4,427.1 724.7,427.2 725.8,429.6 726.9,431.3 728.0,432.9 729.2,435.5 731.1,429.7 732.4,431.4 733.7,432.0 735.0,430.3 736.2,429.4 737.7,429.1 739.2,427.7 740.7,427.5 742.0,427.3 743.3,426.2 744.9,422.0 746.3,421.5 747.8,422.3 749.1,422.7 750.4,421.9 751.7,422.3 753.6,428.1 754.9,426.8 756.2,424.3 757.5,423.2 758.7,423.7 760.0,422.7 761.1,425.6 762.3,429.7 764.0,430.3 765.8,429.7 767.1,422.0 768.4,419.9 769.6,418.8 770.9,424.3 772.2,424.8 773.5,423.9 774.8,424.3 776.1,424.4 777.4,422.7 778.6,423.4 779.9,421.8 781.2,422.0 782.5,423.2 783.8,423.0 785.1,424.3 786.3,425.5 787.8,423.2 789.2,419.8 790.0,422.4 791.2,421.7 792.4,422.3 793.6,421.6 794.8,418.8 796.0,417.8 797.2,415.1 798.4,415.7 799.6,417.5 800.8,418.0 801.9,416.0 803.0,415.1 804.5,417.2 805.9,418.0 807.3,416.1 808.8,415.1 810.2,417.3 811.3,422.4 812.4,426.7 813.6,424.5 814.8,423.8 816.0,421.6 817.5,419.2 818.9,418.0 820.3,402.1 821.8,416.6 823.2,417.6 824.7,417.3 826.0,405.9 827.3,395.6 829.0,400.7 830.2,400.0 831.4,397.4 832.6,396.4 833.8,396.3 835.0,394.5 836.2,394.2 837.7,389.0 839.1,382.0 840.6,376.8 842.0,384.9 843.5,392.0 845.0,394.2 846.4,397.1 847.8,392.0 849.2,391.3 850.7,389.9 852.2,388.4 853.6,387.7 854.7,383.9 855.8,379.0 857.2,377.5 858.6,376.8 859.8,374.5 861.1,370.7 862.3,368.2 863.7,364.4 865.1,359.5 866.5,355.8 868.0,353.0 869.1,354.9 870.2,355.9 871.6,358.8 872.7,352.9 873.8,347.9 875.2,355.3 876.7,361.7 878.4,354.3 880.0,348.3 881.3,347.4 882.6,345.3 883.9,344.5 885.1,346.4 886.4,347.0 888.0,343.5 889.6,341.3 890.9,345.5 892.2,349.0 893.5,334.4 894.8,320.7 896.7,317.5 898.0,325.9 899.3,332.9 901.2,334.8 902.5,335.2 903.8,336.8 905.0,341.7 906.3,345.8 908.0,345.9 909.6,347.0 910.9,347.7 912.1,346.9 913.4,347.7 915.3,340.6 916.6,340.9 917.9,339.5 919.2,340.0 920.5,342.7 921.7,343.7 923.0,346.4 924.3,345.9 925.6,343.7 926.9,343.2 928.2,338.5 929.5,332.3 930.8,327.8 932.4,329.5 934.0,330.4 935.6,321.4 937.2,313.7 938.5,318.2 939.7,321.4 941.0,323.8 942.3,327.9 943.6,330.4 944.9,325.4 946.2,321.4 947.7,325.0 949.2,327.0 950.7,330.4 952.3,328.2 953.9,325.2 955.1,330.5 956.4,336.8 957.9,335.5 959.4,332.8 960.9,331.6 962.4,336.7 963.9,339.6 965.4,344.5 967.0,336.1 968.7,326.5 970.1,312.7 971.4,300.4 972.8,286.7 974.0,284.8 975.2,284.3 976.4,298.0 977.6,310.8 978.8,298.5 980.0,287.9 981.2,289.2 982.5,288.7 983.7,290.3 985.2,295.1 986.7,298.0 988.2,303.7 989.7,307.2 990.9,302.3 992.1,299.2 993.3,293.9 994.5,281.8 995.7,272.2 996.9,260.2 998.5,270.4 1000.0,282.0 1001.8,265.4 1002.8,247.8 1004.1,239.6 1005.5,230.3 1007.4,243.2 1009.2,228.5 1010.6,227.2 1012.0,227.5 1013.3,242.3 1014.8,222.0 1016.0,224.4 1017.3,224.6 1018.5,226.6 1019.9,222.0 1021.0,229.5 1022.2,235.8 1024.0,243.2 1025.8,239.5 1027.0,246.4 1028.3,254.8 1029.5,261.7 1031.4,263.5 1033.2,274.6 1034.2,255.2 1036.0,254.3 1037.8,267.2 1039.7,256.2 1041.1,254.5 1042.5,254.3 1044.3,237.7 1046.2,259.8 1047.4,259.7 1048.6,257.8 1049.8,258.0 1051.0,261.1 1052.3,262.2 1053.5,265.4 1054.9,272.7 1056.3,278.3 1057.5,276.9 1058.7,276.5 1059.8,281.8 1060.9,285.7 1062.3,294.2 1063.7,304.1 1064.9,300.3 1066.2,294.6 1067.4,291.2 1068.7,311.5 1069.9,302.0 1071.1,291.2 1072.9,302.3 1074.4,296.6 1076.0,293.3 1077.5,287.5 1079.4,296.8 1080.9,295.4 1082.5,296.2 1084.0,294.9 1085.4,287.2 1086.8,281.1 1088.2,282.1 1089.5,282.0 1091.4,295.8 1092.6,294.1 1093.9,293.8 1095.1,292.1 1096.6,294.3 1098.2,298.3 1099.7,300.5 1101.1,307.3 1102.5,315.2 1104.3,320.8 1106.1,310.6 1107.3,311.9 1108.6,311.2 1109.8,312.5 1111.7,318.9 1113.1,315.3 1114.5,310.6 1116.0,310.2 1117.6,311.7 1119.1,311.5 1120.4,300.8 1121.8,291.2 1123.0,291.1 1124.3,289.3 1125.5,289.4 1127.4,298.6 1128.6,300.8 1129.9,300.8 1131.1,303.2 1132.4,301.9 1133.8,299.5 1135.4,299.8 1136.9,302.2 1138.5,302.3 1140.0,301.5 1141.6,302.9 1143.1,302.3 1144.3,298.6 1145.6,296.6 1146.8,293.1 1148.2,265.7 1149.5,239.5 1150.9,241.3 1152.3,241.4 1153.5,231.7 1154.8,223.8 1156.0,213.7 1157.8,228.5 1159.0,227.0 1160.3,227.7 1161.5,226.6 1162.9,240.0 1164.3,254.3 1165.5,256.5 1166.8,256.8 1168.0,258.9 1169.4,257.3 1170.8,254.3 1172.6,241.4 1174.0,244.5 1175.4,248.8 1176.7,244.1 1178.1,237.0 1179.4,232.1 1180.8,236.9 1182.1,240.0 1183.4,236.3 1184.7,233.9 1186.1,237.5 1187.4,240.0 1188.7,234.4 1190.0,230.3 1191.8,231.2 1193.1,239.3 1194.4,246.2 1195.7,246.5 1197.1,248.4 1198.4,248.1 1199.7,249.7 1200.9,249.5 1202.1,247.5 1203.3,247.1 1204.6,248.8 1205.9,248.7 1207.3,251.0 1208.6,251.5 1209.9,254.4 1211.2,259.4 1212.5,261.2 1213.8,265.6 1215.0,265.6 1216.2,263.9 1217.4,263.9 1218.8,256.8 1220.3,259.9 1221.8,262.1 1223.1,263.1 1224.4,266.0 1225.8,266.3 1227.1,268.3 1228.6,264.5 1230.0,258.6 1231.5,255.0 1233.2,258.8 1235.0,261.2 1236.3,260.8 1237.7,263.0 1239.0,261.9 1240.3,263.0 1241.8,264.6 1243.4,264.5 1245.0,266.8 1246.5,267.4 1248.0,264.3 1249.4,263.5 1250.9,260.3 1252.2,260.2 1253.6,261.2 1255.1,251.8 1256.5,239.8 1258.0,230.3 1259.3,231.4 1260.6,231.2 1261.9,240.6 1263.3,251.5 1265.0,245.9 1266.8,239.2 1268.0,237.7 1269.2,238.0 1270.4,236.5 1271.2,216.2 1272.6,222.8 1273.9,231.2 1275.7,233.4 1277.4,233.9 1278.8,241.3 1280.1,249.7 1281.4,247.9 1282.7,244.4 1284.1,250.1 1285.4,256.8 1286.7,251.1 1288.0,244.4 1289.8,248.4 1291.5,253.3 1293.0,254.4 1294.5,253.6 1296.0,255.0 1297.7,263.0 1299.2,261.0 1300.6,257.1 1302.1,255.0 1303.3,259.2 1304.5,261.2 1305.7,265.6 1307.5,262.2 1309.2,257.7 1311.0,259.3 1312.7,262.1 1314.1,250.3 1315.4,237.4 1316.9,240.0 1318.3,244.4 1319.8,247.1 1321.5,246.1 1323.3,246.2 1324.7,249.2 1326.0,250.6 1327.3,237.7 1328.6,225.9 1329.8,225.0 1331.0,222.4 1332.2,221.5 1333.5,206.7 1334.8,190.6 1336.5,180.6 1338.3,172.1 1339.7,180.0 1341.0,186.2 1342.3,196.3 1343.6,207.4 1345.4,188.0 1346.8,198.6 1348.1,207.4 1349.8,214.9 1351.6,223.3 1353.3,225.1 1355.1,225.9 1356.0,197.7 1357.8,218.0 1359.2,213.0 1360.6,209.1 1361.9,200.1 1363.3,189.8 1365.3,202.6 1366.6,197.9 1367.8,195.5 1369.1,191.1 1370.4,195.1 1371.7,200.1 1373.0,203.8 1374.3,206.5 1375.9,201.7 1377.5,198.2 1379.1,201.0 1380.7,202.6 1382.0,207.0 1383.2,213.5 1384.5,218.1 1385.8,209.1 1387.1,207.9 1388.4,209.1 1389.7,207.5 1391.0,207.8 1392.9,194.9 1394.2,197.1 1395.4,197.5 1396.7,192.0 1398.0,187.9 1399.9,200.1 1401.5,204.2 1403.1,206.5 1404.6,199.0 1406.1,193.4 1407.6,186.0 1408.9,183.3 1410.2,181.5 1412.1,198.2 1412.8,168.0 1414.4,172.3 1416.0,175.7 1417.3,177.8 1418.5,182.3 1419.8,184.7 1420.5,202.6 1422.0,202.1 1423.5,203.4 1425.0,202.6 1426.9,198.2 1428.8,208.4 1430.4,207.3 1432.0,207.1 1433.3,210.6 1434.6,212.3 1435.9,211.6 1437.2,212.9 1438.5,212.3 1440.4,194.9 1442.3,195.6 1443.6,206.5 1445.5,203.9 1446.8,207.4 1448.1,212.3 1449.6,206.5 1451.1,198.5 1452.6,192.4 1453.9,191.8 1455.1,189.3 1456.4,188.5 1457.7,180.2 1459.0,181.2 1460.3,180.8 1461.9,174.7 1463.5,169.9 1465.1,174.0 1466.7,177.0 1468.0,182.7 1469.3,183.0 1470.5,185.5 1471.8,186.0 1473.8,191.1 1475.0,188.8 1476.3,187.9 1477.9,189.2 1479.5,189.2 1481.5,177.0 1482.8,177.5 1484.0,179.5 1486.0,173.8 1487.6,171.4 1489.2,168.0 1491.1,173.8 1492.7,174.2 1494.3,176.3 1496.2,180.8 1497.5,180.7 1498.8,178.8 1500.1,178.9 1501.3,187.6 1502.6,195.0 1503.9,194.6 1505.2,196.5 1506.5,196.2 1507.8,197.6 1509.0,201.2 1510.3,202.6 1511.6,204.4 1512.9,208.3 1514.2,210.4 1516.1,197.5 1517.7,199.8 1519.3,203.9 1521.3,200.1 1522.9,209.9 1524.5,218.1 1525.8,215.0 1527.0,212.9 1528.3,212.5 1529.6,209.7 1530.9,209.9 1532.2,207.7 1533.5,207.1 1534.8,208.9 1536.0,208.9 1537.3,211.0 1538.9,209.5 1540.5,206.5 1542.5,193.7 1544.3,191.0 1545.8,190.0 1547.2,190.5 1548.7,189.5 1550.8,192.4 1552.2,190.0 1553.7,188.8 1554.9,190.3 1556.1,190.2 1557.3,191.7 1558.4,193.6 1559.5,194.6 1560.6,188.6 1561.7,183.7 1563.8,190.2 1565.2,183.5 1566.7,175.8 1568.0,173.7 1569.2,173.8 1570.5,171.2 1571.8,170.7 1572.8,174.0 1573.9,175.8 1575.3,174.0 1576.8,173.6 1577.9,176.3 1579.0,178.0 1580.4,177.2 1581.9,178.1 1583.3,177.2 1584.8,179.9 1586.2,184.6 1587.7,187.3 1588.9,188.6 1590.1,192.1 1591.3,193.1 1592.7,186.7 1594.2,182.7 1595.6,176.5 1596.8,174.3 1598.0,174.4 1599.2,172.2 1600.7,171.7 1602.1,172.9 1603.5,177.2 1605.0,159.2 1607.1,165.7 1608.3,164.4 1609.6,161.4 1610.8,159.9 1612.2,160.4 1613.6,159.2 1615.1,167.8 1616.2,154.0 1617.3,141.8 1618.7,147.9 1620.1,152.7 1621.2,151.2 1622.3,151.2 1623.0,160.6 1624.2,160.3 1625.4,157.7 1626.6,157.0 1628.0,154.5 1629.5,150.5 1631.0,153.3 1632.4,157.7 1633.9,152.7 1636.0,154.1 1637.1,157.9 1638.2,160.6 1639.4,161.1 1640.6,163.1 1641.8,163.5 1642.9,161.3 1644.0,160.6 1645.4,155.6 1646.9,155.8 1648.3,153.4 1649.8,153.9 1651.2,152.7 1652.7,154.6 1654.1,157.7 1655.5,160.1 1657.0,161.3 1658.2,158.8 1659.5,158.8 1660.8,155.7 1662.0,154.8 1663.2,157.2 1664.4,157.5 1665.6,159.9 1666.8,162.3 1668.0,163.2 1669.2,165.7 1670.4,165.8 1671.7,163.5 1672.9,163.5 1674.3,163.4 1675.8,160.8 1677.2,160.6 1678.7,162.4 1680.1,162.4 1681.5,165.0 1683.0,165.7 1684.5,161.6 1686.0,158.8 1687.9,149.1 1689.8,152.0 1691.7,132.8 1693.7,138.5 1695.6,146.2 1697.5,137.6 1698.8,138.3 1700.1,136.8 1701.4,137.6 1703.3,142.4 1704.3,134.2 1705.9,139.0 1707.6,142.4 1709.0,140.5 1710.5,139.5 1711.7,141.8 1712.9,142.4 1714.9,148.7 1716.6,147.4 1718.2,147.7 1719.4,150.7 1720.6,152.5 1722.0,151.9 1723.5,152.5 1725.0,146.2 1726.2,148.2 1727.4,148.7 1728.6,149.9 1729.8,152.0 1731.1,149.8 1732.4,145.1 1733.8,143.5 1735.1,139.5 1737.0,141.4 1738.2,140.5 1739.4,140.9 1741.1,144.3 1742.8,146.2 1744.7,145.3 1746.2,137.8 1747.6,131.8 1749.0,132.3 1750.5,131.3 1751.5,136.1 1753.4,127.9 1753.9,135.6 1754.8,112.0 1756.8,112.0 1758.2,119.3 1759.7,114.3 1761.1,110.6 1762.1,122.2 1764.0,120.2 1765.4,127.5 1765.9,110.6 1767.6,114.5 1769.3,116.9 1770.8,117.2 1772.2,118.8 1773.4,122.1 1774.6,124.1 1775.6,132.8 1777.5,134.2 1779.4,129.9 1781.3,136.1 1782.8,136.5 1784.2,138.5" stroke="#2196f3" stroke-width="2.8"/>
</g>
<rect x="1784" y="125" width="61" height="27" fill="#2196f3"/>
<rect x="1784" y="138" width="6" height="1" fill="#ffffff"/>
<text x="1797.2" y="144.8" font-size="17.5" font-weight="bold" fill="#ffffff">88.3</text>
<rect x="1784" y="321" width="61" height="27" fill="#2196f3"/>
<rect x="1784" y="334" width="6" height="1" fill="#ffffff"/>
<text x="1797.2" y="340.8" font-size="17.5" font-weight="bold" fill="#ffffff">61.2</text>
<circle cx="51.6" cy="546.1" r="15.5" fill="#1e2230"/>
<circle cx="1815.6" cy="546.1" r="15.5" fill="#1e2230"/>
<g fill="none" stroke="#8c8f9a" stroke-width="1.6" stroke-linejoin="bevel">
<path d="M47.4,538.7 H55.4 L47.6,550.2 H55.8"/>
<path d="M1811.0,550.9 L1815.7,538.3 L1820.4,550.9 M1812.7,546.3 H1818.7"/>
</g>
<g fill="#d1d4dc">
<path d="M8.9,586.8 H23.1 V604 H15.6 V593.8 H8.9 Z"/>
<circle cx="28.5" cy="590.2" r="3.4"/>
<path d="M34.2,586.8 H43.1 L36,604 H28.2 Z"/>
</g>
<text x="50.2" y="604" font-size="24" fill="#d1d4dc" stroke="#d1d4dc" stroke-width="1.0" stroke-linejoin="round" textLength="137.2" lengthAdjust="spacingAndGlyphs">TradingView</text>
</svg></body></html>
